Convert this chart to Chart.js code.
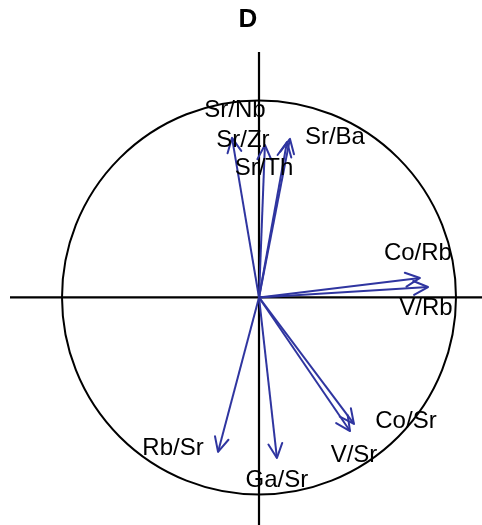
<!DOCTYPE html>
<html>
<head>
<meta charset="utf-8">
<script src="https://cdn.jsdelivr.net/npm/chart.js@4/dist/chart.umd.min.js"></script>
<style>
  html, body { margin: 0; padding: 0; background: #fff; }
  #wrap { width: 482px; height: 525px; }
</style>
</head>
<body>
<div id="wrap"><canvas id="c"></canvas></div>
<script>
// Variable loadings on the first two components (correlation circle, panel D)
const variables = ['Sr/Nb', 'Sr/Zr', 'Sr/Th', 'Sr/Ba', 'Co/Rb', 'V/Rb', 'Co/Sr', 'V/Sr', 'Rb/Sr', 'Ga/Sr'];
const dim1 = [-0.137, 0.030, 0.142, 0.157, 0.817, 0.858, 0.482, 0.462, -0.208, 0.091];
const dim2 = [0.810, 0.774, 0.789, 0.805, 0.099, 0.053, -0.642, -0.678, -0.784, -0.815];
const panelTitle = 'D';

// Label placement relative to each arrow tip, in pixels
const labelNudge = {
  'Sr/Nb': [3, -28], 'Sr/Zr': [-22, -5], 'Sr/Th': [-23, 26], 'Sr/Ba': [45, -2],
  'Co/Rb': [-2, -25], 'V/Rb': [-2, 21], 'Co/Sr': [52, -3], 'V/Sr': [4, 24],
  'Rb/Sr': [-45, -4], 'Ga/Sr': [0, 22]
};

const ARROW = '#2f35a0';

const datasets = variables.map((name, i) => ({
  label: name,
  data: [{ x: 0, y: 0 }, { x: dim1[i], y: dim2[i] }],
  showLine: true,
  borderColor: ARROW,
  borderWidth: 2,
  pointRadius: 0,
  pointHoverRadius: 0,
  fill: false
}));

const circlePlugin = {
  id: 'corCircle',
  beforeDatasetsDraw(chart) {
    const { ctx, chartArea: a, scales: { x, y } } = chart;
    const cx = x.getPixelForValue(0), cy = y.getPixelForValue(0);
    const r = x.getPixelForValue(1) - cx;
    ctx.save();
    ctx.strokeStyle = '#000';
    ctx.lineWidth = 2.2;
    ctx.beginPath();
    ctx.moveTo(a.left, cy); ctx.lineTo(a.right, cy);
    ctx.moveTo(cx, a.top); ctx.lineTo(cx, a.bottom);
    ctx.stroke();
    ctx.lineWidth = 2;
    ctx.beginPath();
    ctx.arc(cx, cy, r, 0, Math.PI * 2);
    ctx.stroke();
    ctx.restore();
  },
  afterDatasetsDraw(chart) {
    const { ctx, scales: { x, y } } = chart;
    const cx = x.getPixelForValue(0), cy = y.getPixelForValue(0);
    ctx.save();
    // open arrowheads
    ctx.strokeStyle = ARROW;
    ctx.lineWidth = 2;
    ctx.lineCap = 'round';
    ctx.lineJoin = 'round';
    const len = 16, half = 0.45;
    variables.forEach((name, i) => {
      const tx = x.getPixelForValue(dim1[i]), ty = y.getPixelForValue(dim2[i]);
      const ang = Math.atan2(ty - cy, tx - cx);
      ctx.beginPath();
      ctx.moveTo(tx - len * Math.cos(ang - half), ty - len * Math.sin(ang - half));
      ctx.lineTo(tx, ty);
      ctx.lineTo(tx - len * Math.cos(ang + half), ty - len * Math.sin(ang + half));
      ctx.stroke();
    });
    // variable names
    ctx.fillStyle = '#000';
    ctx.font = '24px "Liberation Sans", Arial, sans-serif';
    ctx.textAlign = 'center';
    ctx.textBaseline = 'middle';
    variables.forEach((name, i) => {
      const tx = x.getPixelForValue(dim1[i]), ty = y.getPixelForValue(dim2[i]);
      const [dx, dy] = labelNudge[name];
      ctx.fillText(name, tx + dx, ty + dy);
    });
    // panel letter
    ctx.font = 'bold 26px "Liberation Sans", Arial, sans-serif';
    ctx.fillText(panelTitle, 248, 20);
    ctx.restore();
  }
};

new Chart(document.getElementById('c'), {
  type: 'scatter',
  data: { datasets },
  options: {
    responsive: true,
    maintainAspectRatio: false,
    animation: false,
    layout: { padding: { left: 10, right: 0, top: 52, bottom: 0 } },
    plugins: { legend: { display: false }, tooltip: { enabled: false }, title: { display: false } },
    scales: {
      x: { type: 'linear', min: -1.264, max: 1.132, display: false },
      y: { type: 'linear', min: -1.155, max: 1.246, display: false }
    }
  },
  plugins: [circlePlugin]
});
</script>
</body>
</html>
